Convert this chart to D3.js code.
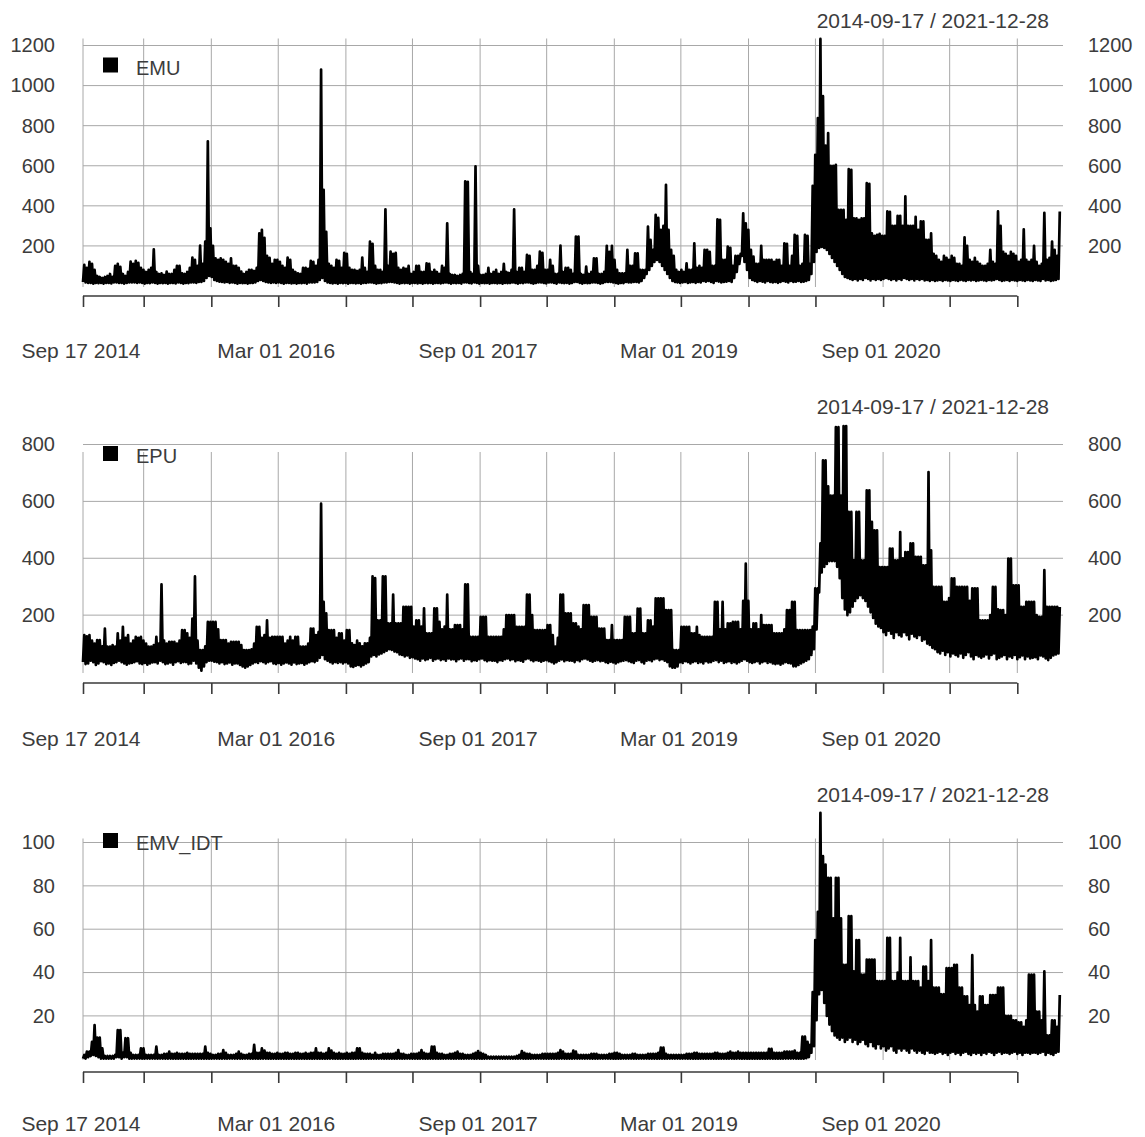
<!DOCTYPE html>
<html>
<head>
<meta charset="utf-8">
<script src="https://cdn.jsdelivr.net/npm/d3@7"></script>
<style>
  body { margin: 0; background: #fff; }
  svg { display: block; }
  text { font-family: "Liberation Sans", Arial, sans-serif; }
</style>
</head>
<body>
<svg id="chart" width="1145" height="1137"></svg>
<script>
// Daily uncertainty indices, summarised week by week as the low and the high
// reached in each 7-day block starting 2014-09-17.
const startDate = "2014-09-17";
const endDate = "2021-12-28";
const weekStep = 7;

const seriesNames = ["EMU", "EPU", "EMV_IDT"];

const emuHigh = [
  105,90,120,110,80,50,45,40,45,50,
  60,45,100,110,95,60,50,70,122,110,
  125,115,90,80,70,80,90,183,70,60,
  63,55,72,60,60,80,100,100,63,60,
  70,90,142,130,100,202,110,222,722,288,
  200,138,130,138,130,120,110,138,100,100,
  90,72,60,70,80,80,75,90,263,280,
  240,150,140,110,130,130,120,100,90,142,
  130,80,70,63,60,90,90,85,125,120,
  100,130,1080,480,270,110,100,90,130,125,
  90,165,160,90,80,80,75,80,142,90,
  70,222,210,100,80,80,70,383,100,172,
  160,165,90,80,90,85,100,60,70,100,
  100,70,70,113,110,70,80,70,60,100,
  90,313,60,55,55,50,55,60,522,520,
  70,60,597,100,55,55,60,90,60,70,
  80,60,70,110,70,65,80,383,70,90,
  90,70,155,150,80,80,100,172,165,80,
  80,130,100,60,60,202,70,90,90,80,
  60,247,247,60,55,97,60,70,138,138,
  60,60,70,200,170,200,130,80,63,63,
  63,180,100,100,163,163,80,80,80,297,
  230,180,355,340,280,300,505,280,180,150,
  80,70,80,70,113,80,80,213,90,100,
  90,180,180,170,100,100,333,330,130,130,
  197,190,100,150,150,160,363,313,280,180,
  147,110,110,200,130,130,130,130,120,130,
  130,100,213,210,100,150,255,250,100,110,
  255,250,110,500,655,838,1233,947,700,763,
  600,600,605,380,380,380,330,583,580,338,
  338,330,338,338,513,510,263,250,255,260,
  250,250,372,370,300,300,350,350,300,447,
  300,300,300,345,280,322,322,230,230,263,
  160,150,130,120,150,140,130,150,140,110,
  110,100,243,200,130,120,140,120,110,100,
  100,110,180,120,110,372,300,170,160,150,
  170,160,150,120,130,283,130,120,130,200,
  120,100,110,365,130,140,222,180,150,372
];

const emuLow = [
  20,18,16,15,12,15,14,15,12,15,
  15,13,18,18,16,15,12,15,18,18,
  18,16,18,15,12,15,14,18,15,12,
  15,14,15,12,15,15,13,18,15,12,
  15,14,18,18,16,20,20,25,40,50,
  45,30,25,22,20,18,20,16,18,15,
  12,15,14,15,12,15,15,18,25,30,
  25,20,18,16,18,15,18,15,12,15,
  15,13,15,12,15,14,15,12,18,18,
  18,20,30,40,25,18,15,13,15,12,
  15,14,15,12,15,15,13,15,12,15,
  15,18,18,15,12,15,14,18,18,20,
  20,18,15,12,15,14,15,12,15,15,
  13,15,12,15,14,15,12,15,15,13,
  15,18,15,12,15,14,15,12,18,18,
  15,13,18,15,12,15,14,15,12,15,
  15,13,15,12,15,14,15,18,15,12,
  15,14,18,18,15,12,15,18,18,15,
  13,18,18,15,12,18,15,14,15,12,
  15,20,20,15,12,15,14,15,18,18,
  15,12,15,20,20,20,18,15,12,15,
  14,20,18,18,20,20,18,25,40,60,
  80,100,120,130,120,100,80,60,40,25,
  20,18,16,18,20,15,18,20,16,20,
  18,25,22,25,20,16,25,22,18,20,
  22,25,20,40,70,110,150,120,80,40,
  30,25,20,25,22,18,25,20,18,20,
  16,20,25,22,18,25,20,22,25,20,
  22,25,30,60,120,170,190,195,190,180,
  160,140,120,100,80,60,45,40,35,30,
  35,28,35,30,40,35,28,35,30,35,
  30,35,40,35,30,35,28,35,30,40,
  35,30,35,28,35,30,35,28,30,25,
  30,25,28,30,25,30,28,25,30,28,
  25,30,28,25,30,28,30,25,28,30,
  28,25,30,28,30,35,30,25,28,30,
  25,30,28,25,30,28,25,30,28,25,
  30,28,25,35,28,30,25,28,30,35
];

const epuHigh = [
  130,125,130,110,100,112,112,90,153,89,
  89,95,89,136,110,159,120,130,100,110,
  124,120,124,110,100,89,89,95,124,100,
  308,110,100,106,106,106,100,110,147,147,
  136,120,188,336,110,77,77,90,176,176,
  176,176,150,112,112,112,100,106,106,106,
  106,95,77,77,77,80,100,159,159,120,
  130,182,120,124,124,124,124,124,100,110,
  124,110,124,124,89,89,89,100,153,153,
  130,140,592,247,206,147,147,147,120,136,
  136,110,147,147,101,95,110,101,90,101,
  101,120,336,330,182,182,336,336,171,171,
  272,171,171,171,229,229,229,229,160,182,
  182,160,224,136,136,136,224,224,176,150,
  160,272,150,150,165,165,165,150,308,308,
  124,124,124,124,194,194,194,124,124,124,
  124,124,124,150,200,200,200,200,159,159,
  159,159,272,272,200,147,147,147,147,147,
  165,165,130,89,120,272,272,206,206,206,
  171,171,160,150,235,235,235,194,194,194,
  153,153,153,112,112,165,112,112,112,112,
  194,194,194,136,136,223,223,136,136,182,
  182,160,259,259,259,259,218,218,218,77,
  77,77,159,159,159,159,136,136,159,130,
  124,124,124,124,124,247,247,150,247,150,
  171,171,176,176,176,150,250,381,250,150,
  171,171,150,200,165,165,165,165,136,136,
  136,136,150,218,218,247,247,147,147,147,
  147,147,147,160,294,294,452,744,744,653,
  620,620,861,861,620,865,865,563,563,393,
  563,563,393,393,639,639,528,498,498,369,
  369,369,369,434,434,393,393,492,400,422,
  422,452,452,405,405,405,375,375,703,428,
  299,299,299,299,247,247,260,329,329,299,
  299,299,299,299,250,294,294,294,182,182,
  182,182,200,299,299,220,218,218,200,399,
  399,305,305,305,229,229,247,247,247,247,
  200,194,194,358,229,229,229,229,229,229
];

const epuLow = [
  35,28,30,40,35,25,30,38,35,28,
  30,25,32,35,40,35,30,26,30,32,
  35,38,30,28,32,26,30,34,35,30,
  40,35,28,30,34,26,35,38,32,35,
  35,28,30,40,30,15,5,20,35,40,
  40,36,35,30,35,28,30,34,26,30,
  30,25,20,15,20,25,30,35,32,38,
  35,30,35,38,30,28,32,26,30,34,
  30,26,34,28,30,32,26,30,35,38,
  35,40,50,60,45,40,35,30,35,32,
  35,30,35,30,20,18,22,25,20,25,
  30,35,55,60,55,62,65,70,75,80,
  78,72,70,62,60,55,58,50,52,48,
  45,40,48,42,45,50,40,45,48,42,
  45,40,48,44,45,38,45,48,40,45,
  45,38,42,40,45,48,42,38,42,40,
  40,35,42,40,45,48,42,45,38,42,
  40,36,45,48,42,38,42,40,36,40,
  42,38,35,30,35,40,44,38,42,40,
  40,35,42,38,45,48,44,40,36,40,
  42,38,40,35,32,36,34,30,35,38,
  40,42,38,35,32,40,42,35,30,40,
  42,38,45,48,42,45,40,35,20,15,
  15,20,35,32,38,35,30,35,38,32,
  35,30,38,34,35,40,42,35,40,32,
  35,38,32,35,30,35,40,45,40,35,
  32,35,38,30,35,38,32,35,30,28,
  30,26,30,35,32,30,20,20,25,30,
  35,40,45,60,80,150,280,350,370,380,
  390,390,390,370,330,260,220,200,210,230,
  250,260,270,260,250,230,210,190,170,160,
  155,140,130,145,135,120,140,130,125,140,
  130,115,135,125,120,130,110,115,100,95,
  85,80,70,65,75,60,70,55,65,60,
  55,65,50,60,70,55,45,60,55,50,
  55,62,48,60,65,45,50,55,60,45,
  55,50,60,45,52,58,45,55,48,50,
  52,45,58,55,48,42,50,58,62,65
];

const emvHigh = [
  2,3.5,3.5,8,15.8,10,10,5,1.5,1.5,
  1.5,1.5,2,13.5,13.5,3,9.7,9.7,3,2,
  2,2,5,5,2,2,2,2,5.8,2,
  2,2.5,2.5,3.5,2.5,2.5,3,2.5,2.5,2.5,
  3,2.5,2.5,2.5,2.5,2.5,2.5,5.8,3,2.5,
  2,2,2.5,2.5,4.2,3,2,2,2,2.5,
  3.5,2.5,2,2,2.5,2.5,6.6,3,3,5,
  4,3,3,2.5,2.5,3,2.5,2.5,3,3,
  2.5,2.5,3,3,2.5,2.5,3,2.5,3,3,
  5,3,3,2.5,3,5,4,3,2.5,3,
  2.5,2.5,3,2.5,3,3,5,5,3,2.5,
  2.5,2.5,2,3,2,2,2.5,2.5,2.5,2.5,
  2.5,3,4.2,2.5,2.5,2,2,2.5,2.5,2.5,
  3,4.2,3,2.5,2.5,5.8,5.8,3,2.5,2.5,
  2,2,2.5,2.5,3,3.5,2.5,2.5,2,2,
  2,2.5,3,3.8,3,2.5,2,1.2,1.2,1.2,
  1.2,1.2,1.2,1.2,1.2,1.2,1.2,1.2,1.5,2,
  3.8,3,2.5,2.5,2,2,2,2,2.5,2.5,
  2.5,2.5,2.5,2.5,3,4.2,3.5,2.5,2.5,2.5,
  4,3.5,2,2,2,2,2,2.5,2.5,2.5,
  2,2,2,2,2.5,2.5,3,3,2.5,2,
  2,2,2,2.5,2.5,2,2,2,2,2.5,
  2.5,2.5,2.5,3,5.4,5.4,2.5,2,2,2,
  2,2,2,2,2.5,2.5,2.5,3,3,2.5,
  2.5,2.5,2.5,2.5,2.5,3,3,2.5,2.5,2.5,
  3,3.5,3,3,3.5,3,3,3,3,3,
  3,3,3,3,3,3,4.8,4.8,3,3,
  3,3,3.5,3.5,3.5,3.5,4,3,3,10.4,
  10.4,8,6.6,31,55,68,113.7,93.7,89.8,83.7,
  83.7,65,83.7,83.7,65,43.6,43.6,66,66,40.5,
  55,55,39,39,46,46,46,46,36,36,
  36,36,56,56,36,36,40,56,36,36,
  36,47,36,36,36,33,42.8,42.8,36,55,
  33,33,33,30,30,42,42,42,43.6,43.6,
  33,33,29,29,25,48,25,22,29,29,
  25,25,29.6,29.6,29.6,33,33,33,20,20,
  20,18,18,17,17,15,18,39,39,39,
  22,22,18,40.5,11,11,18,18,15,29.6
];

const emvLow = [
  0.3,0.3,1,1.5,2,1.5,1,0.3,0.3,0.3,
  0.3,0.3,0.3,1,1,0.3,1,1,0.3,0.3,
  0.3,0.3,0.3,0.3,0.3,0.3,0.3,0.3,0.3,0.3,
  0.3,0.3,0.3,0.3,0.3,0.3,0.3,0.3,0.3,0.3,
  0.3,0.3,0.3,0.3,0.3,0.3,0.3,0.3,0.3,0.3,
  0.3,0.3,0.3,0.3,0.3,0.3,0.3,0.3,0.3,0.3,
  0.3,0.3,0.3,0.3,0.3,0.3,0.3,0.3,0.3,0.3,
  0.3,0.3,0.3,0.3,0.3,0.3,0.3,0.3,0.3,0.3,
  0.3,0.3,0.3,0.3,0.3,0.3,0.3,0.3,0.3,0.3,
  0.3,0.3,0.3,0.3,0.3,0.3,0.3,0.3,0.3,0.3,
  0.3,0.3,0.3,0.3,0.3,0.3,0.3,0.3,0.3,0.3,
  0.3,0.3,0.3,0.3,0.3,0.3,0.3,0.3,0.3,0.3,
  0.3,0.3,0.3,0.3,0.3,0.3,0.3,0.3,0.3,0.3,
  0.3,0.3,0.3,0.3,0.3,0.3,0.3,0.3,0.3,0.3,
  0.3,0.3,0.3,0.3,0.3,0.3,0.3,0.3,0.3,0.3,
  0.3,0.3,0.3,0.3,0.3,0.3,0.3,0.3,0.3,0.3,
  0.3,0.3,0.3,0.3,0.3,0.3,0.3,0.3,0.3,0.3,
  0.3,0.3,0.3,0.3,0.3,0.3,0.3,0.3,0.3,0.3,
  0.3,0.3,0.3,0.3,0.3,0.3,0.3,0.3,0.3,0.3,
  0.3,0.3,0.3,0.3,0.3,0.3,0.3,0.3,0.3,0.3,
  0.3,0.3,0.3,0.3,0.3,0.3,0.3,0.3,0.3,0.3,
  0.3,0.3,0.3,0.3,0.3,0.3,0.3,0.3,0.3,0.3,
  0.3,0.3,0.3,0.3,0.3,0.3,0.3,0.3,0.3,0.3,
  0.3,0.3,0.3,0.3,0.3,0.3,0.3,0.3,0.3,0.3,
  0.3,0.3,0.3,0.3,0.3,0.3,0.3,0.3,0.3,0.3,
  0.3,0.3,0.3,0.3,0.3,0.3,0.3,0.3,0.3,0.3,
  0.3,0.3,0.3,0.3,0.3,0.3,0.3,0.3,0.3,0.3,
  0.3,0.3,0.3,0.3,0.3,0.3,0.3,0.3,0.3,0.3,
  0.3,0.5,1,3,6,18,30,32,26,20,
  16,13,11,10,9,10,8,9,10,8,
  9,7,8,9,7,6,8,6,5,7,
  5,6,4,5,6,4,3,5,4,5,
  4,3,5,4,3,4,3,2.5,4,3,
  3,2.5,3,3.5,2.5,3,2,3,3.5,2.5,
  3,2,3,3.5,2.5,2,3,2.5,3,2,
  3,2.5,3.5,3,2,3,3.5,2.5,3,3,
  2.5,3,3.5,2.5,3,2,3,3,2.5,3,
  3,2.5,3,3.5,2,3,2.5,2,3,3.5
];

// y tick values per panel
const emuTicks = [200, 400, 600, 800, 1000, 1200];
const epuTicks = [200, 400, 600, 800];
const emvTicks = [20, 40, 60, 80, 100];

// x-axis tick dates (every third one carries a label)
const xTickDates = [
  "2014-09-17", "2015-03-01", "2015-09-01", "2016-03-01", "2016-09-01",
  "2017-03-01", "2017-09-01", "2018-03-01", "2018-09-01", "2019-03-01",
  "2019-09-01", "2020-03-01", "2020-09-01", "2021-03-01", "2021-09-01"
];

// ---- drawing ----
const svg = d3.select("#chart");
svg.append("rect").attr("width", 1145).attr("height", 1137).attr("fill", "#fff");

const parse = d3.utcParse("%Y-%m-%d");
const fmt = d3.utcFormat("%b %d %Y");
const t0 = parse(startDate);
const t1 = parse(endDate);
const DAY = 864e5;

const plotLeft = 83, plotRight = 1063;
const x = d3.scaleUtc().domain([t0, t1]).range([plotLeft, 1060.7]);
const tickDates = xTickDates.map(parse);

const panels = [
  { name: seriesNames[0], hi: emuHigh, lo: emuLow, ticks: emuTicks,
    zeroPx: 286, topPx: 45.5, gridTop: 38.5, gridBottom: 287, axisY: 296,
    labelY: 343.5, titleY: 27.5, legendTop: 57.5 },
  { name: seriesNames[1], hi: epuHigh, lo: epuLow, ticks: epuTicks,
    zeroPx: 672, topPx: 444.5, gridTop: 452, gridBottom: 673, axisY: 683,
    labelY: 731, titleY: 413.5, legendTop: 446 },
  { name: seriesNames[2], hi: emvHigh, lo: emvLow, ticks: emvTicks,
    zeroPx: 1059.25, topPx: 842.5, gridTop: 838.5, gridBottom: 1060, axisY: 1072,
    labelY: 1116, titleY: 801.5, legendTop: 833 }
];

const textColor = "#3c3c3c";
const gridColor = "#a8a8a8";

function weeklyPoints(hi, lo) {
  const pts = [];
  const n = Math.min(hi.length, lo.length);
  for (let i = 0; i < n; i++) {
    const base = +t0 + i * weekStep * DAY;
    pts.push({ t: new Date(base), v: lo[i] });
    pts.push({ t: new Date(base + (weekStep / 2) * DAY), v: hi[i] });
  }
  return pts;
}

panels.forEach(p => {
  const topTick = p.ticks[p.ticks.length - 1];
  const y = d3.scaleLinear().domain([0, topTick]).range([p.zeroPx, p.topPx]);
  const g = svg.append("g");

  // horizontal grid
  g.append("g").selectAll("line").data(p.ticks).join("line")
    .attr("x1", plotLeft).attr("x2", plotRight)
    .attr("y1", d => y(d)).attr("y2", d => y(d))
    .attr("stroke", gridColor).attr("stroke-width", 1);

  // vertical grid
  g.append("g").selectAll("line").data(tickDates).join("line")
    .attr("x1", d => x(d)).attr("x2", d => x(d))
    .attr("y1", p.gridTop).attr("y2", p.gridBottom)
    .attr("stroke", gridColor).attr("stroke-width", 1);

  // series line
  const line = d3.line().x(d => x(d.t)).y(d => y(d.v));
  g.append("path")
    .datum(weeklyPoints(p.hi, p.lo))
    .attr("d", line)
    .attr("fill", "none")
    .attr("stroke", "#000")
    .attr("stroke-width", 2.7)
    .attr("stroke-linejoin", "round");

  // left / right value labels
  const leftAxis = d3.axisLeft(y).tickValues(p.ticks).tickSize(0).tickPadding(28)
    .tickFormat(d3.format("d"));
  const la = g.append("g").attr("transform", `translate(${plotLeft},0)`).call(leftAxis);
  const rightAxis = d3.axisRight(y).tickValues(p.ticks).tickSize(0).tickPadding(25)
    .tickFormat(d3.format("d"));
  const ra = g.append("g").attr("transform", `translate(${plotRight},0)`).call(rightAxis);
  [la, ra].forEach(a => {
    a.select(".domain").remove();
    a.selectAll("text").attr("fill", textColor).style("font-size", "20px")
      .style("font-family", "'Liberation Sans', Arial, sans-serif");
  });

  // time axis
  const xa = d3.axisBottom(x).tickValues(tickDates).tickSize(11).tickPadding(0)
    .tickFormat(() => "");
  const xg = g.append("g").attr("transform", `translate(0,${p.axisY})`).call(xa);
  xg.select(".domain").remove();
  xg.selectAll(".tick line").attr("stroke", "#3a3a3a").attr("stroke-width", 1.6);
  xg.append("line")
    .attr("x1", x(tickDates[0])).attr("x2", x(tickDates[tickDates.length - 1]))
    .attr("y1", 0).attr("y2", 0)
    .attr("stroke", "#3a3a3a").attr("stroke-width", 1.6);

  g.append("g").selectAll("text")
    .data(tickDates.filter((d, i) => i % 3 === 0)).join("text")
    .attr("x", d => x(d) - 2).attr("y", p.labelY).attr("dy", "0.71em")
    .attr("text-anchor", "middle")
    .attr("fill", textColor).style("font-size", "21px")
    .text(d => fmt(d));

  // date range header
  g.append("text")
    .attr("x", 1049).attr("y", p.titleY)
    .attr("text-anchor", "end")
    .attr("fill", textColor).style("font-size", "21px")
    .text(`${startDate} / ${endDate}`);

  // legend
  g.append("rect")
    .attr("x", 103).attr("y", p.legendTop).attr("width", 15).attr("height", 15)
    .attr("fill", "#000");
  g.append("text")
    .attr("x", 136).attr("y", p.legendTop + 17)
    .attr("fill", textColor).style("font-size", "20px")
    .text(p.name);
});
</script>
</body>
</html>
